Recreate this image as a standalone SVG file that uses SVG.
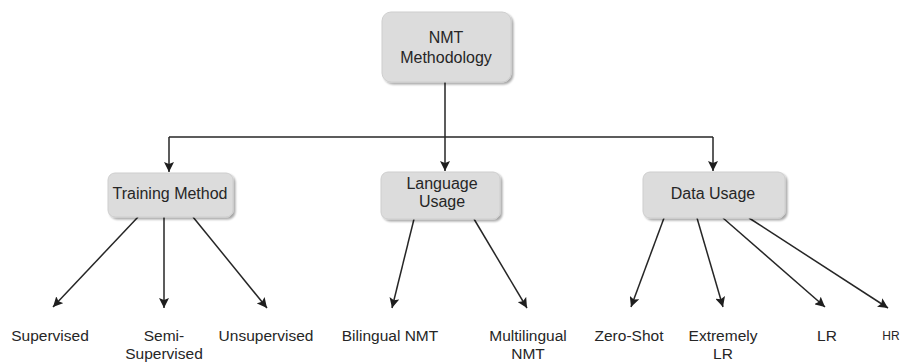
<svg xmlns="http://www.w3.org/2000/svg" width="900" height="362" viewBox="0 0 900 362">
  <defs>
    <marker id="arrow" viewBox="0 0 10 10" refX="10" refY="5" markerWidth="10" markerHeight="10" markerUnits="userSpaceOnUse" orient="auto">
      <path d="M0,0 L10,5 L0,10 L2,5 Z" fill="#1e1e1e"/>
    </marker>
    <filter id="shadow" x="-10%" y="-10%" width="130%" height="140%">
      <feGaussianBlur in="SourceAlpha" stdDeviation="1.2"/>
      <feOffset dx="1.5" dy="2" result="b"/>
      <feComponentTransfer><feFuncA type="linear" slope="0.35"/></feComponentTransfer>
      <feMerge><feMergeNode/><feMergeNode in="SourceGraphic"/></feMerge>
    </filter>
  </defs>
  <style>
    .box { fill: #dcdcdc; stroke: #cecece; stroke-width: 1; filter: url(#shadow); }
    .lbl { font-family: "Liberation Sans", Arial, sans-serif; font-size: 16px; fill: #262626; text-anchor: middle; }
    .leaf { font-family: "Liberation Sans", Arial, sans-serif; font-size: 15.5px; fill: #262626; text-anchor: middle; }
    .edge { stroke: #262626; stroke-width: 1.5; fill: none; }
    .arr { marker-end: url(#arrow); }
  </style>
  <rect width="900" height="362" fill="#ffffff"/>

  <g id="connectors">
    <path class="edge" d="M445,82 V137"/>
    <path class="edge" d="M169,137 H713"/>
    <path class="edge arr" d="M169,137 V172"/>
    <path class="edge arr" d="M445,137 V171"/>
    <path class="edge arr" d="M713,137 V171"/>
    <!-- Training Method children -->
    <path class="edge arr" d="M138,217 L53,307"/>
    <path class="edge arr" d="M164,217 L164,308"/>
    <path class="edge arr" d="M193,217 L267,308"/>
    <!-- Language Usage children -->
    <path class="edge arr" d="M414,219 L392,308"/>
    <path class="edge arr" d="M474,219 L527,308"/>
    <!-- Data Usage children -->
    <path class="edge arr" d="M664,218 L631,307"/>
    <path class="edge arr" d="M697,218 L723,307"/>
    <path class="edge arr" d="M723,218 L825,307"/>
    <path class="edge arr" d="M749,218 L888,308"/>
  </g>

  <g id="root">
    <rect class="box" x="382" y="12" width="129" height="70" rx="9"/>
    <text class="lbl" x="446" y="43">NMT</text>
    <text class="lbl" x="446" y="63">Methodology</text>
  </g>
  <g id="training-method">
    <rect class="box" x="108" y="173" width="125" height="44" rx="7"/>
    <text class="lbl" x="170" y="199">Training Method</text>
  </g>
  <g id="language-usage">
    <rect class="box" x="381" y="172" width="119" height="47" rx="7"/>
    <text class="lbl" x="442" y="189">Language</text>
    <text class="lbl" x="442" y="207">Usage</text>
  </g>
  <g id="data-usage">
    <rect class="box" x="643" y="172" width="142" height="46" rx="7"/>
    <text class="lbl" x="713" y="199">Data Usage</text>
  </g>

  <g id="supervised"><text class="leaf" x="50" y="341">Supervised</text></g>
  <g id="semi-supervised">
    <text class="leaf" x="164" y="341">Semi-</text>
    <text class="leaf" x="164" y="359">Supervised</text>
  </g>
  <g id="unsupervised"><text class="leaf" x="266" y="341">Unsupervised</text></g>
  <g id="bilingual-nmt"><text class="leaf" x="390" y="341">Bilingual NMT</text></g>
  <g id="multilingual-nmt">
    <text class="leaf" x="528" y="341">Multilingual</text>
    <text class="leaf" x="528" y="359">NMT</text>
  </g>
  <g id="zero-shot"><text class="leaf" x="629" y="341">Zero-Shot</text></g>
  <g id="extremely-lr">
    <text class="leaf" x="723" y="341">Extremely</text>
    <text class="leaf" x="723" y="359">LR</text>
  </g>
  <g id="lr"><text class="leaf" x="827" y="341">LR</text></g>
  <g id="hr"><text class="leaf" x="891" y="340" style="font-size:12px">HR</text></g>
</svg>
